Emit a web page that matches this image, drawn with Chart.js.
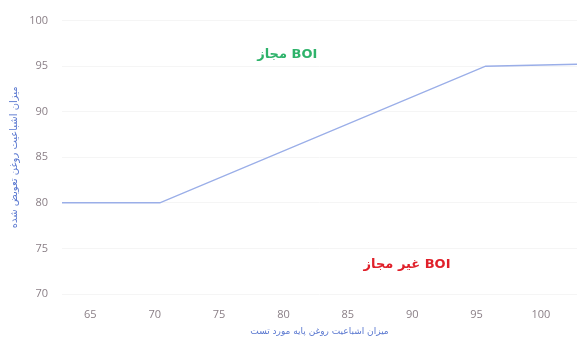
<!DOCTYPE html>
<html>
<head>
<meta charset="utf-8">
<script src="https://cdn.jsdelivr.net/npm/chart.js@4/dist/chart.umd.min.js"></script>
<style>
  html, body { margin: 0; padding: 0; background: #fff; }
  #wrap { width: 577px; height: 341px; }
</style>
</head>
<body>
<div id="wrap"><canvas id="chart"></canvas></div>
<script>
// Data
const xValues = [62.8, 70.4, 95.7, 102.8];
const yValues = [80, 80, 95, 95.2];
const xTitle = "میزان اشباعیت روغن پایه مورد تست";
const yTitle = "میزان اشباعیت روغن تعویض شده";

// Zone labels (placed in data units)
const zoneTexts = ["BOI مجاز", "BOI غیر مجاز"];
const zoneX = [80.3, 89.6];
const zoneY = [96.3, 73.2];
const zoneColors = ["#2fb36b", "#e0202a"];

const points = xValues.map((x, i) => ({ x: x, y: yValues[i] }));

// Draws the two zone labels, right-to-left
const zoneLabels = {
  id: "zoneLabels",
  afterDatasetsDraw(chart) {
    const ctx = chart.ctx;
    const xs = chart.scales.x, ys = chart.scales.y;
    ctx.save();
    ctx.direction = "rtl";
    ctx.font = "bold 13px 'DejaVu Sans'";
    ctx.textAlign = "center";
    ctx.textBaseline = "middle";
    zoneTexts.forEach((t, i) => {
      ctx.fillStyle = zoneColors[i];
      ctx.fillText(t, xs.getPixelForValue(zoneX[i]), ys.getPixelForValue(zoneY[i]));
    });
    ctx.restore();
  }
};

new Chart(document.getElementById("chart"), {
  type: "line",
  data: {
    datasets: [{
      data: points,
      borderColor: "#9aaee8",
      borderWidth: 1.5,
      pointRadius: 0,
      fill: false,
      tension: 0
    }]
  },
  options: {
    responsive: true,
    maintainAspectRatio: false,
    animation: false,
    layout: { padding: { top: 14, right: 0, left: 8, bottom: 0 } },
    plugins: { legend: { display: false }, tooltip: { enabled: false } },
    scales: {
      x: {
        type: "linear",
        min: 62.8,
        max: 102.8,
        afterBuildTicks: (s) => { s.ticks = [65, 70, 75, 80, 85, 90, 95, 100].map(v => ({ value: v })); },
        afterFit: (s) => { s.height = 47; },
        grid: { display: false },
        border: { display: false },
        ticks: { color: "#8a7f86", font: { family: "'Open Sans'", size: 11 }, padding: 6 },
        title: { display: true, text: xTitle, color: "#5a78d0", font: { family: "'DejaVu Sans'", size: 9 }, padding: { top: 4 } }
      },
      y: {
        min: 70,
        max: 100,
        afterFit: (s) => { s.width = 54; },
        grid: { color: "#f5f5f5", drawTicks: false },
        border: { display: false },
        ticks: { stepSize: 5, color: "#8a7f86", font: { family: "'Open Sans'", size: 11 }, padding: 14 },
        title: { display: true, text: yTitle, color: "#5a78d0", font: { family: "'DejaVu Sans'", size: 10 }, padding: 0 }
      }
    }
  },
  plugins: [zoneLabels]
});
</script>
</body>
</html>
